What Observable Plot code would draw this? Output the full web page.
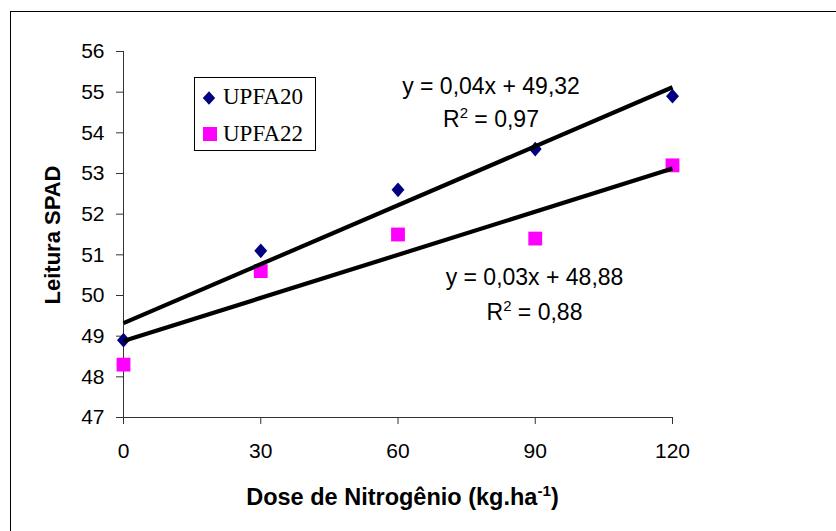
<!DOCTYPE html>
<html><head><meta charset="utf-8">
<script src="https://cdn.jsdelivr.net/npm/d3@7"></script>
<script src="https://cdn.jsdelivr.net/npm/@observablehq/plot@0.6"></script>
<style>
html,body{margin:0;padding:0;overflow:hidden;background:#fff;}
#wrap{position:relative;width:836px;height:531px;overflow:hidden;font-family:"Liberation Sans",Arial,sans-serif;color:#000;}
#frame{position:absolute;left:10px;top:11px;width:900px;height:600px;border-left:1px solid #000;border-top:1px solid #000;}
#chart{position:absolute;left:0;top:0;}
.abs{position:absolute;white-space:nowrap;line-height:22px;}
.eq{font-size:23px;width:300px;text-align:center;}
.lg{font-family:"Liberation Serif","Times New Roman",serif;font-size:23px;}
sup{font-size:0.65em;line-height:0;vertical-align:0.6em;}
</style></head><body>
<div id="wrap"><div id="frame"></div><div id="chart"></div></div>
<script>
const doses = [0, 30, 60, 90, 120];
const upfa20 = [48.9, 51.1, 52.6, 53.6, 54.9];
const upfa22 = [48.3, 50.6, 51.5, 51.4, 53.2];
const seriesNames = ["UPFA20", "UPFA22"];
const seriesColors = ["#000080", "#FF00FF"];
const xTicks = [0, 30, 60, 90, 120];
const yTicks = [47, 48, 49, 50, 51, 52, 53, 54, 55, 56];
const eqLines = ["y = 0,04x + 49,32", "y = 0,03x + 48,88"];
const r2Values = ["0,97", "0,88"];
const xTitle = "Dose de Nitrogênio (kg.ha";
const yTitle = "Leitura SPAD";

const rows = [
  ...doses.map((d, i) => ({dose: d, value: upfa20[i], series: seriesNames[0]})),
  ...doses.map((d, i) => ({dose: d, value: upfa22[i], series: seriesNames[1]}))
];

const diamondSym = {draw(ctx, size) {const s = Math.sqrt(size); const h = s * 0.64, w = s * 0.56;
  ctx.moveTo(0, -h); ctx.lineTo(w, 0); ctx.lineTo(0, h); ctx.lineTo(-w, 0); ctx.closePath();}};
const squareSym = {draw(ctx, size) {const s = Math.sqrt(size) * 0.6; ctx.rect(-s, -s, 2 * s, 2 * s);}};

const chart = Plot.plot({
  width: 836, height: 531,
  marginLeft: 123, marginRight: 164, marginTop: 51, marginBottom: 114,
  x: {domain: [0, 120]},
  y: {domain: [47, 56]},
  style: {fontFamily: '"Liberation Sans", Arial, sans-serif', fontSize: "21px", color: "#000", background: "transparent", overflow: "visible"},
  marks: [
    Plot.axisY({ticks: yTicks, tickSize: 7, tickPadding: 12, label: null, fontSize: 21, stroke: "#333"}),
    Plot.axisX({ticks: xTicks, tickSize: 7, tickPadding: 19, label: null, fontSize: 21, stroke: "#333"}),
    Plot.ruleX([0], {stroke: "#333"}),
    Plot.ruleY([47], {stroke: "#333"}),
    Plot.dot(rows.filter(d => d.series === seriesNames[0]), {x: "dose", y: "value", symbol: diamondSym, r: 6.5, fill: seriesColors[0], stroke: null}),
    Plot.dot(rows.filter(d => d.series === seriesNames[1]), {x: "dose", y: "value", symbol: squareSym, r: 6.5, fill: seriesColors[1], stroke: null}),
    Plot.linearRegressionY(rows, {x: "dose", y: "value", z: "series", stroke: "#000", strokeWidth: 4.2, ci: 0, strokeLinecap: "butt"})
  ]
});
const wrap = document.getElementById("wrap");
document.getElementById("chart").appendChild(chart);

function addDiv(html, cls, style) {
  const d = document.createElement("div");
  d.className = "abs " + cls;
  d.innerHTML = html;
  Object.assign(d.style, style);
  wrap.appendChild(d);
  return d;
}
// legend
addDiv("", "", {left: "194px", top: "77px", width: "122px", height: "74px", border: "1px solid #000", boxSizing: "border-box"});
const markerSvg = (i) => i === 0
  ? `<svg width="14" height="16" viewBox="-7 -8 14 16"><path d="M0,-6.8L6.2,0L0,6.8L-6.2,0Z" fill="${seriesColors[0]}"/></svg>`
  : `<svg width="16" height="16" viewBox="-8 -8 16 16"><rect x="-7" y="-7" width="14" height="14" fill="${seriesColors[1]}"/></svg>`;
addDiv(markerSvg(0), "", {left: "202px", top: "89.5px", lineHeight: "0"});
addDiv(markerSvg(1), "", {left: "201.5px", top: "125.5px", lineHeight: "0"});
addDiv(seriesNames[0], "lg", {left: "223px", top: "86px"});
addDiv(seriesNames[1], "lg", {left: "223px", top: "123px"});
// equations
addDiv(eqLines[0], "eq", {left: (491 - 150) + "px", top: "75px"});
addDiv("R<sup>2</sup> = " + r2Values[0], "eq", {left: (491 - 150) + "px", top: "108px"});
addDiv(eqLines[1], "eq", {left: (534.5 - 150) + "px", top: "266px"});
addDiv("R<sup>2</sup> = " + r2Values[1], "eq", {left: (534.5 - 150) + "px", top: "301px"});
// axis titles
addDiv(yTitle, "", {left: "52.5px", top: "234.5px", fontSize: "22px", fontWeight: "bold", transform: "translate(-50%,-50%) rotate(-90deg)"});
addDiv(xTitle + "<sup>-1</sup>)", "", {left: "402.5px", top: "497px", fontSize: "23.5px", fontWeight: "bold", transform: "translate(-50%,-50%)"});
</script>
</body></html>
